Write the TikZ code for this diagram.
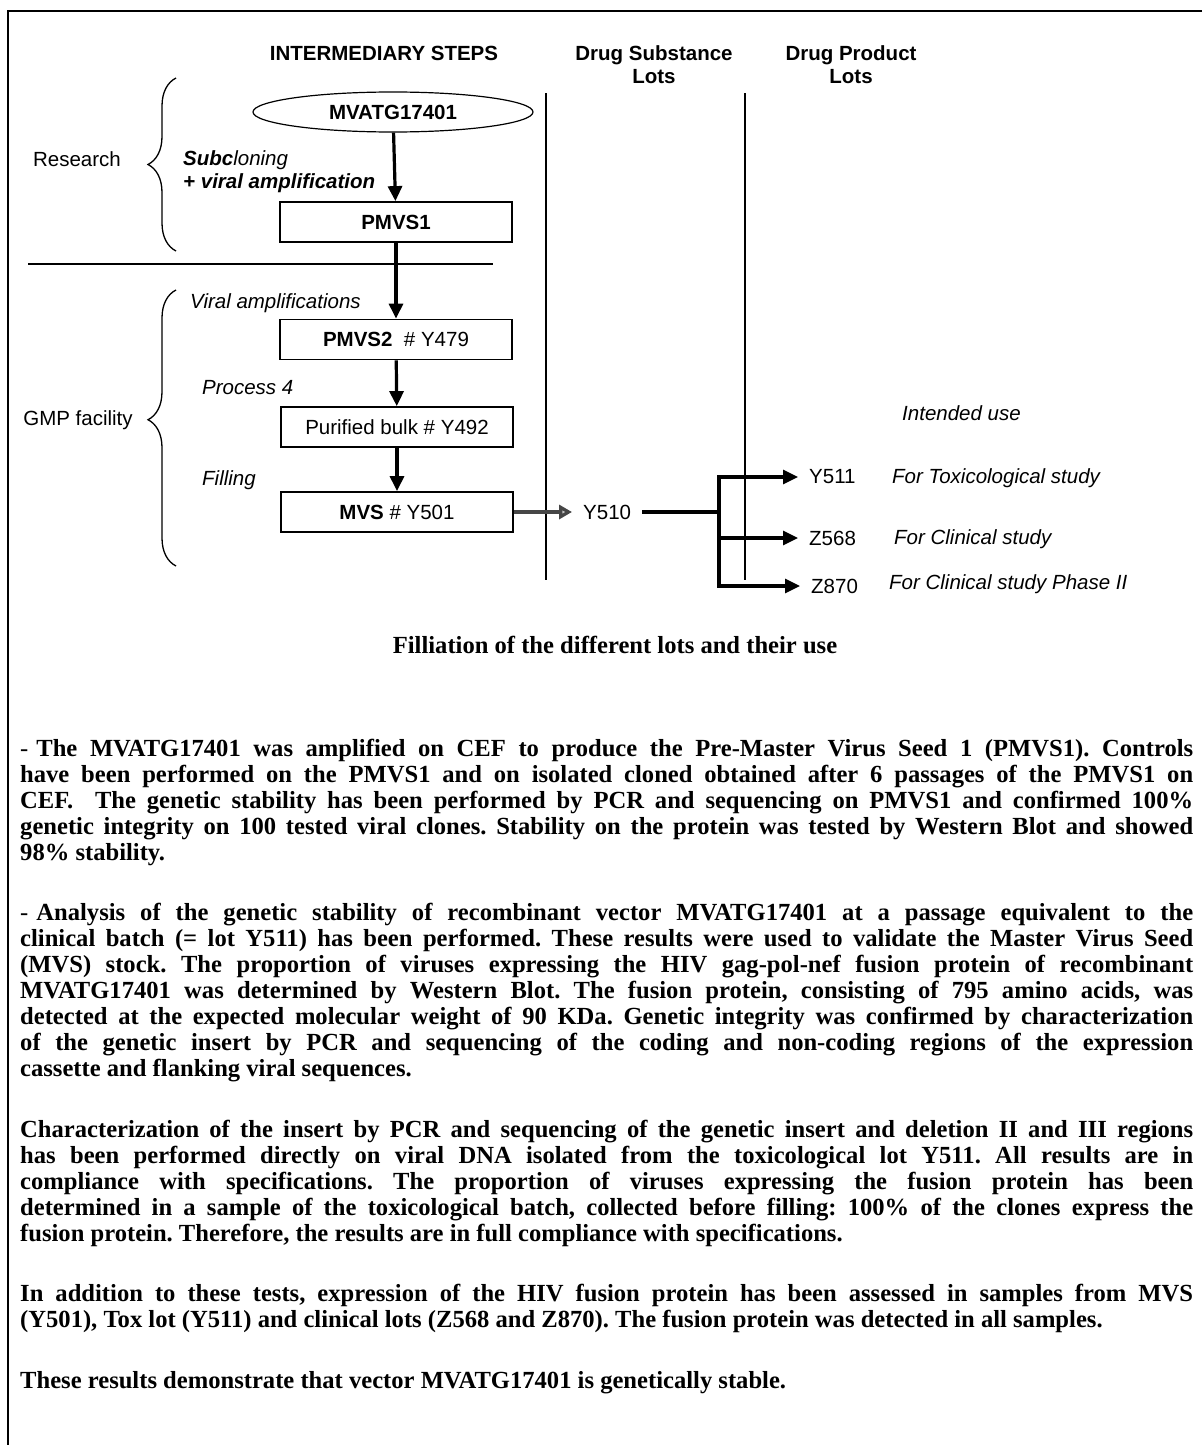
\documentclass[tikz,border=0pt]{standalone}
\usepackage{fontspec}
\setmainfont{Liberation Serif}
\setsansfont{Liberation Sans}
\usetikzlibrary{positioning,shapes.geometric,arrows.meta,decorations.pathreplacing}
\newcommand{\diagfont}{\sffamily\fontsize{20.5}{23.5}\selectfont}
\newcommand{\bodyfont}{\rmfamily\bfseries\fontsize{24.6}{26}\selectfont\frenchspacing\tolerance=9999\hyphenpenalty=10000}
\setlength{\parindent}{0pt}
\begin{document}
\begin{tikzpicture}[x=1pt,y=-1pt,
  every node/.style={inner sep=0pt,font=\diagfont},
  colhead/.style={font=\diagfont\bfseries,align=center},
  lotbox/.style={draw,line width=1.8pt,minimum width=232pt,minimum height=40pt},
  flow/.style={line width=3.2pt,-{Triangle[length=15pt,width=14pt]}},
  stage/.style={anchor=west,font=\diagfont\itshape},
  lot/.style={anchor=west,inner xsep=11pt},
  intent/.style={anchor=west,font=\diagfont\itshape},
  curly/.style={decorate,decoration={brace,amplitude=28pt},line width=1.3pt},
  prose/.style={anchor=north west,text width=1173pt,align=justify,font=\bodyfont}]
\useasboundingbox (0,0) rectangle (1202,1445);
% frame
\draw[line width=2.5pt] (1202,11) -- (8,11) -- (8,1445);
% column titles
\node[colhead] (steps) at (384,53) {INTERMEDIARY STEPS};
\node[colhead] (dsl) at (654,64.5) {Drug Substance\\Lots};
\node[colhead] (dpl) at (851,64.5) {Drug Product\\Lots};
\draw[line width=1.8pt] (546,93) -- (546,580);
\draw[line width=1.8pt] (745,93) -- (745,580);
% research
\node[draw,ellipse,line width=1.2pt,minimum width=280pt,minimum height=40pt,font=\diagfont\bfseries] (mva) at (393,112) {MVATG17401};
\node[lotbox,font=\diagfont\bfseries] (pmvsone) at (396,222) {PMVS1};
\node[stage,align=left] (subclon) at (183,171.5) {\textbf{Subc}loning\\\textbf{+ viral amplification}};
\node (research) at (77,159) {Research};
\coordinate (restop) at (176,78);
\coordinate (resbot) at (176,251);
\draw[curly] (resbot) -- (restop);
\draw[line width=1.6pt] (28,264) -- (493,264);
% GMP facility
\node[lotbox] (pmvstwo) at (396,339.5) {\textbf{PMVS2}\ \ \# Y479};
\node[lotbox] (bulk) at (397,427) {Purified bulk \# Y492};
\node[lotbox] (mvs) at (397,512) {\textbf{MVS} \# Y501};
\node[stage] (viramp) at (190,303) {Viral amplifications};
\node[stage] (proc) at (202,388) {Process 4};
\node[stage] (fill) at (202,480) {Filling};
\node (gmp) at (78,420) {GMP facility};
\coordinate (gmptop) at (176,290);
\coordinate (gmpbot) at (176,566);
\draw[curly,decoration={aspect=0.53}] (gmpbot) -- (gmptop);
\draw[flow] (mva) -- (pmvsone);
\draw[flow] (pmvsone) -- (pmvstwo);
\draw[flow] (pmvstwo) -- (bulk);
\draw[flow] (bulk) -- (mvs);
% lots
\node[lot] (yfiveten) at (572,512) {Y510};
\draw[line width=4pt,gray!55!black,-{Triangle[length=13pt,width=14pt,fill=gray!45]}] (mvs) -- (yfiveten);
\coordinate (split) at (719,512);
\draw[line width=3.6pt] (yfiveten) -- (split);
\node[lot] (ysel) at (798,477) {Y511};
\node[lot] (zfive) at (798,538) {Z568};
\node[lot] (zeight) at (800,586) {Z870};
\draw[flow] (split) |- (ysel);
\draw[flow] (split) |- (zfive);
\draw[flow] (split) |- (zeight);
\node[intent] (intended) at (902,413) {Intended use};
\node[intent] (tox) at (892,478) {For Toxicological study};
\node[intent] (clin) at (894,539) {For Clinical study};
\node[intent] (phase) at (889,584) {For Clinical study Phase II};
\node[font=\bodyfont] (caption) at (615,645) {Filliation of the different lots and their use};
% text below
\node[prose] (para1) at (20,738) {\strut{\mdseries -}\hspace{8pt}The MVATG17401 was amplified on CEF to produce the Pre-Master Virus Seed 1 (PMVS1). Controls\linebreak
have been performed on the PMVS1 and on isolated cloned obtained after 6 passages of the PMVS1 on\linebreak
CEF.\ \ The genetic stability has been performed by PCR and sequencing on PMVS1 and confirmed 100\%\linebreak
genetic integrity on 100 tested viral clones. Stability on the protein was tested by Western Blot and showed\linebreak
98\% stability.\strut};
\node[prose,below=34pt of para1] (para2) {\strut{\mdseries -}\hspace{8pt}Analysis of the genetic stability of recombinant vector MVATG17401 at a passage equivalent to the\linebreak
clinical batch (= lot Y511) has been performed. These results were used to validate the Master Virus Seed\linebreak
(MVS) stock. The proportion of viruses expressing the HIV gag-pol-nef fusion protein of recombinant\linebreak
MVATG17401 was determined by Western Blot. The fusion protein, consisting of 795 amino acids, was\linebreak
detected at the expected molecular weight of 90 KDa. Genetic integrity was confirmed by characterization\linebreak
of the genetic insert by PCR and sequencing of the coding and non-coding regions of the expression\linebreak
cassette and flanking viral sequences.\strut};
\node[prose,below=34pt of para2] (para3) {\strut Characterization of the insert by PCR and sequencing of the genetic insert and deletion II and III regions\linebreak
has been performed directly on viral DNA isolated from the toxicological lot Y511. All results are in\linebreak
compliance with specifications. The proportion of viruses expressing the fusion protein has been\linebreak
determined in a sample of the toxicological batch, collected before filling: 100\% of the clones express the\linebreak
fusion protein. Therefore, the results are in full compliance with specifications.\strut};
\node[prose,below=34pt of para3] (para4) {\strut In addition to these tests, expression of the HIV fusion protein has been assessed in samples from MVS\linebreak
(Y501), Tox lot (Y511) and clinical lots (Z568 and Z870). The fusion protein was detected in all samples.\strut};
\node[prose,below=34pt of para4] (para5) {\strut These results demonstrate that vector MVATG17401 is genetically stable.\strut};
\end{tikzpicture}
\end{document}
